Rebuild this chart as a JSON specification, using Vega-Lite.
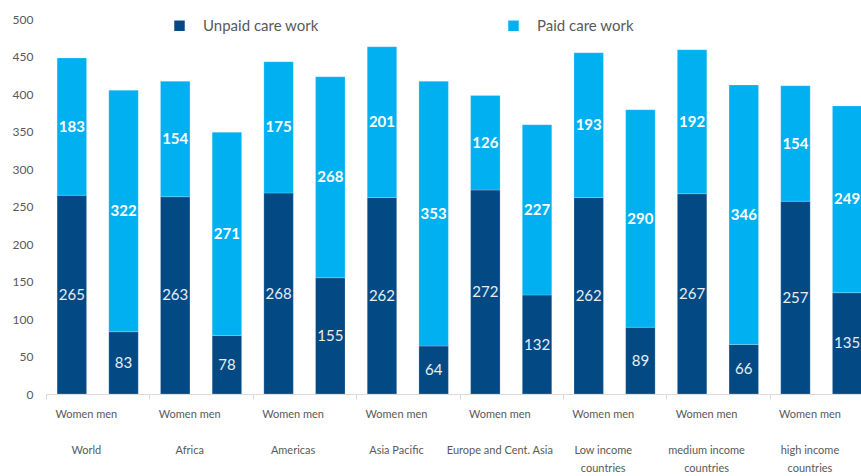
{
  "$schema": "https://vega.github.io/schema/vega-lite/v6.json",
  "width": 827,
  "height": 375,
  "padding": {"left": 12, "top": 13, "right": 0, "bottom": 0},
  "background": "white",
  "config": {"font": "Lato", "view": {"stroke": null}},
  "data": {"values": [
    {"bar": "World/Women", "care": "Unpaid care work", "hours": 265},
    {"bar": "World/Women", "care": "Paid care work", "hours": 183},
    {"bar": "World/men", "care": "Unpaid care work", "hours": 83},
    {"bar": "World/men", "care": "Paid care work", "hours": 322},
    {"bar": "Africa/Women", "care": "Unpaid care work", "hours": 263},
    {"bar": "Africa/Women", "care": "Paid care work", "hours": 154},
    {"bar": "Africa/men", "care": "Unpaid care work", "hours": 78},
    {"bar": "Africa/men", "care": "Paid care work", "hours": 271},
    {"bar": "Americas/Women", "care": "Unpaid care work", "hours": 268},
    {"bar": "Americas/Women", "care": "Paid care work", "hours": 175},
    {"bar": "Americas/men", "care": "Unpaid care work", "hours": 155},
    {"bar": "Americas/men", "care": "Paid care work", "hours": 268},
    {"bar": "Asia Pacific/Women", "care": "Unpaid care work", "hours": 262},
    {"bar": "Asia Pacific/Women", "care": "Paid care work", "hours": 201},
    {"bar": "Asia Pacific/men", "care": "Unpaid care work", "hours": 64},
    {"bar": "Asia Pacific/men", "care": "Paid care work", "hours": 353},
    {"bar": "Europe and Cent. Asia/Women", "care": "Unpaid care work", "hours": 272},
    {"bar": "Europe and Cent. Asia/Women", "care": "Paid care work", "hours": 126},
    {"bar": "Europe and Cent. Asia/men", "care": "Unpaid care work", "hours": 132},
    {"bar": "Europe and Cent. Asia/men", "care": "Paid care work", "hours": 227},
    {"bar": "Low income countries/Women", "care": "Unpaid care work", "hours": 262},
    {"bar": "Low income countries/Women", "care": "Paid care work", "hours": 193},
    {"bar": "Low income countries/men", "care": "Unpaid care work", "hours": 89},
    {"bar": "Low income countries/men", "care": "Paid care work", "hours": 290},
    {"bar": "medium income countries/Women", "care": "Unpaid care work", "hours": 267},
    {"bar": "medium income countries/Women", "care": "Paid care work", "hours": 192},
    {"bar": "medium income countries/men", "care": "Unpaid care work", "hours": 66},
    {"bar": "medium income countries/men", "care": "Paid care work", "hours": 346},
    {"bar": "high income countries/Women", "care": "Unpaid care work", "hours": 257},
    {"bar": "high income countries/Women", "care": "Paid care work", "hours": 154},
    {"bar": "high income countries/men", "care": "Unpaid care work", "hours": 135},
    {"bar": "high income countries/men", "care": "Paid care work", "hours": 249}
  ]},
  "encoding": {
    "y": {
      "field": "hours", "type": "quantitative", "stack": "zero",
      "scale": {"domain": [0, 500]},
      "axis": {"title": null, "values": [0, 50, 100, 150, 200, 250, 300, 350, 400, 450, 500], "labelOverlap": false, "grid": false, "domain": false, "ticks": false, "tickSize": 0, "labelPadding": 13, "labelFontSize": 12, "labelColor": "#595959"}
    },
    "order": {"field": "care", "sort": "descending"}
  },
  "resolve": {"axis": {"x": "independent"}},
  "layer": [
    {
      "mark": {"type": "bar", "stroke": "white", "strokeWidth": 0.5, "strokeOpacity": 0.4},
      "encoding": {
        "x": {
          "field": "bar", "type": "nominal", "sort": null,
          "scale": {"paddingInner": 0.43, "paddingOuter": 0.215},
          "axis": {
            "title": null, "orient": "bottom",
            "values": ["World/Women", "Africa/Women", "Americas/Women", "Asia Pacific/Women", "Europe and Cent. Asia/Women", "Low income countries/Women", "medium income countries/Women", "high income countries/Women"],
            "labelExpr": "'Women men'",
            "labelAngle": 0, "labelAlign": "center", "labelBaseline": "top",
            "bandPosition": 0, "tickOffset": -11, "labelOffset": 25,
            "labelPadding": 9, "labelFontSize": 11, "labelColor": "#595959",
            "domainColor": "#d9d9d9", "tickColor": "#d9d9d9", "tickSize": 5
          }
        },
        "color": {
          "field": "care", "type": "nominal",
          "scale": {"domain": ["Unpaid care work", "Paid care work"], "range": ["#034a84", "#00b0f0"]},
          "legend": {
            "title": null, "orient": "none", "direction": "horizontal",
            "legendX": 126, "legendY": -1, "padding": 0,
            "symbolType": "square", "symbolSize": 110, "symbolStrokeWidth": 0,
            "labelFontSize": 15, "labelColor": "#595959", "labelOffset": 16,
            "columnPadding": 187
          }
        }
      }
    },
    {
      "mark": {"type": "text", "color": "#e8edf3", "fontSize": 15},
      "encoding": {
        "x": {
          "field": "bar", "type": "nominal", "sort": null,
          "axis": {
            "title": null, "orient": "bottom",
            "values": ["World/Women", "Africa/Women", "Americas/Women", "Asia Pacific/Women", "Europe and Cent. Asia/Women", "Low income countries/Women", "medium income countries/Women", "high income countries/Women"],
            "labelExpr": "split(replace(replace(datum.value, '/Women', ''), ' countries', '|countries'), '|')",
            "labelAngle": 0, "labelAlign": "center", "labelBaseline": "top",
            "bandPosition": 0, "tickOffset": -11, "labelOffset": 25,
            "labelPadding": 50, "labelLineHeight": 18, "labelFontSize": 11, "labelColor": "#595959", "labelLimit": 200,
            "domain": false, "ticks": false, "tickSize": 0
          }
        },
        "y": {"field": "hours", "type": "quantitative", "stack": "zero", "bandPosition": 0.5},
        "text": {"condition": {"test": "datum.care == 'Unpaid care work'", "field": "hours", "type": "quantitative"}, "value": ""}
      }
    },
    {
      "mark": {"type": "text", "color": "white", "fontSize": 15, "fontWeight": "bold"},
      "encoding": {
        "x": {"field": "bar", "type": "nominal", "sort": null, "axis": null},
        "y": {"field": "hours", "type": "quantitative", "stack": "zero", "bandPosition": 0.5},
        "text": {"condition": {"test": "datum.care == 'Paid care work'", "field": "hours", "type": "quantitative"}, "value": ""}
      }
    }
  ]
}
